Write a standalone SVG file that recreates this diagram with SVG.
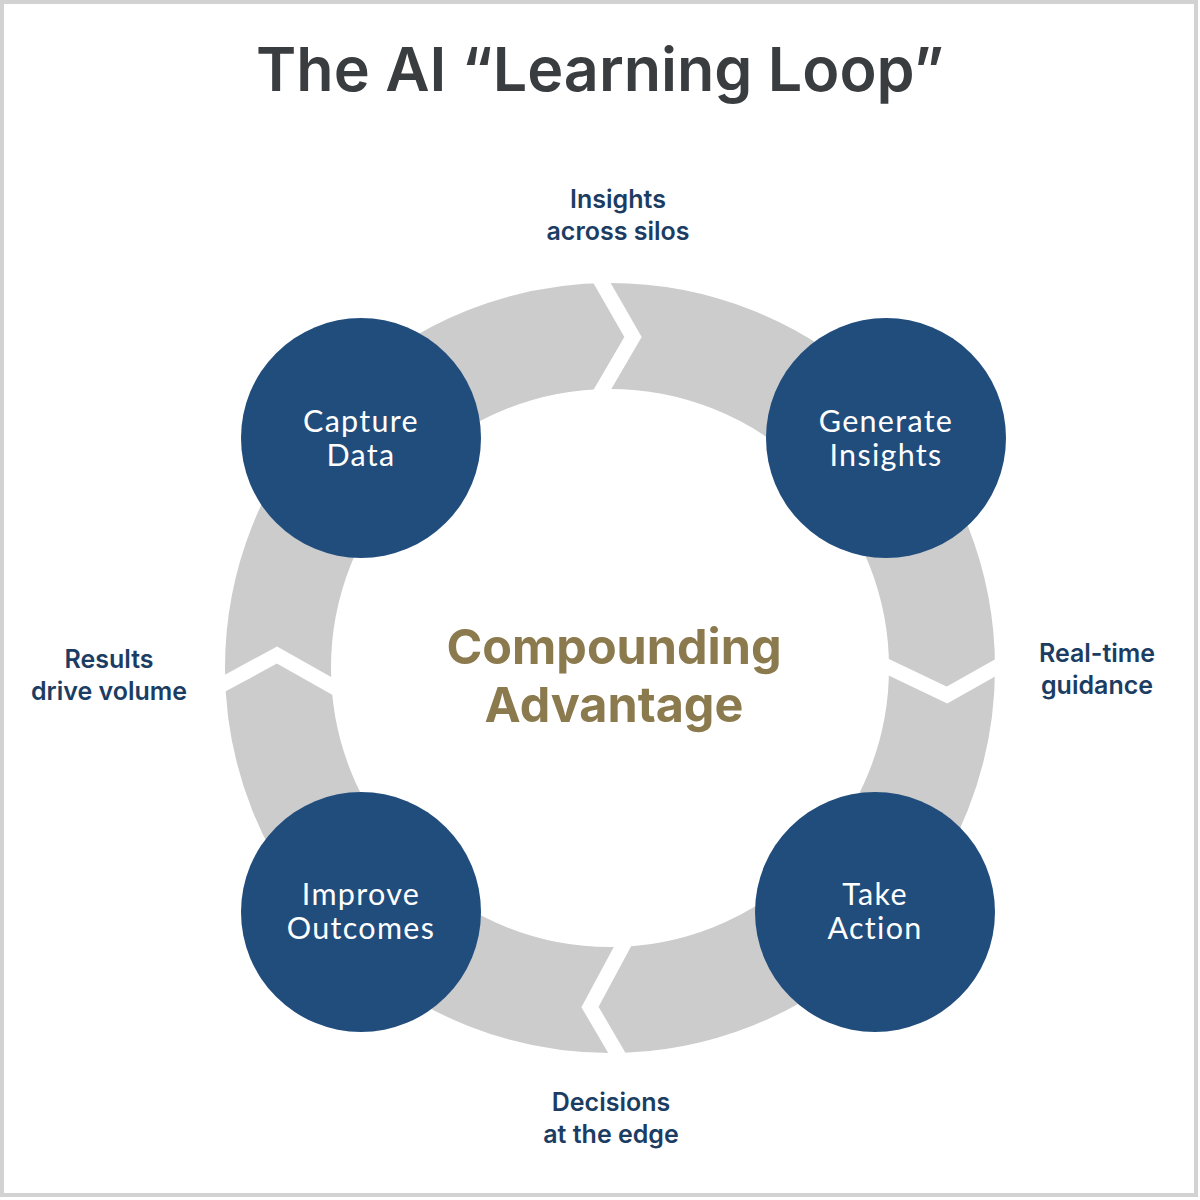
<svg xmlns="http://www.w3.org/2000/svg" width="1200" height="1200" viewBox="0 0 1200 1200">
<style>
.lbl{font-family:"Inter","Noto Sans",sans-serif;font-weight:600;font-size:25px;fill:#1c3d63;text-anchor:middle}
.node circle{fill:#214d7d}
.node text{font-family:"Lato","Noto Sans",sans-serif;font-weight:400;font-size:30.5px;fill:#ffffff;text-anchor:middle;letter-spacing:1.3px}
.gap{fill:none;stroke:#ffffff;stroke-width:15;stroke-linejoin:miter}
.center{font-family:"Inter","Noto Sans",sans-serif;font-weight:700;font-size:48.5px;fill:#8b7a4e;text-anchor:middle}
</style>
<rect x="0" y="0" width="1200" height="1200" fill="#ffffff"/>
<rect x="2" y="2" width="1194" height="1193" fill="none" stroke="#d2d2d2" stroke-width="4"/>
<text x="600" y="91" font-family="Inter, 'Noto Sans', sans-serif" font-weight="600" font-size="61" fill="#3a3d40" text-anchor="middle">The AI “Learning Loop”</text>
<g id="ring">
<circle cx="610" cy="668" r="332" fill="none" stroke="#cccccc" stroke-width="106"/>
</g>
<g id="connectors">
<polyline class="gap" points="598,276 633,337 598,397"/>
<polyline class="gap" points="882,664 947,695 1002,664"/>
<polyline class="gap" points="626,940 590,1007 621,1060"/>
<polyline class="gap" points="218,687 277,655 339,690"/>
</g>
<g id="node-capture" class="node"><circle cx="361" cy="438" r="120"/><text x="361" y="432">Capture</text><text x="361" y="466">Data</text></g>
<g id="node-generate" class="node"><circle cx="886" cy="438" r="120"/><text x="886" y="432">Generate</text><text x="886" y="466">Insights</text></g>
<g id="node-action" class="node"><circle cx="875" cy="912" r="120"/><text x="875" y="905">Take</text><text x="875" y="939">Action</text></g>
<g id="node-improve" class="node"><circle cx="361" cy="912" r="120"/><text x="361" y="905">Improve</text><text x="361" y="939">Outcomes</text></g>
<g id="center-label">
<text class="center" x="614" y="664">Compounding</text>
<text class="center" x="614" y="722">Advantage</text>
</g>
<g id="labels">
<text class="lbl" x="618" y="208">Insights</text><text class="lbl" x="618" y="240">across silos</text>
<text class="lbl" x="1097" y="662">Real-time</text><text class="lbl" x="1097" y="694">guidance</text>
<text class="lbl" x="611" y="1111">Decisions</text><text class="lbl" x="611" y="1143">at the edge</text>
<text class="lbl" x="109" y="668">Results</text><text class="lbl" x="109" y="700">drive volume</text>
</g>
</svg>
